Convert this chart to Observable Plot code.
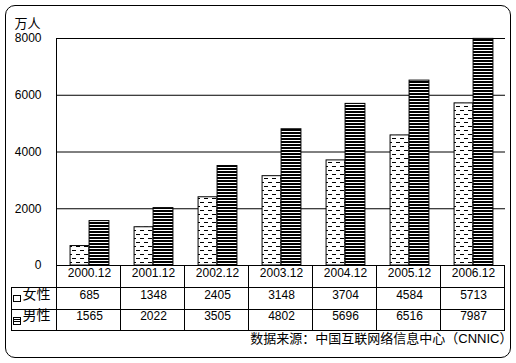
<!DOCTYPE html>
<html>
<head>
<meta charset="utf-8">
<script src="https://cdn.jsdelivr.net/npm/d3@7"></script>
<script src="https://cdn.jsdelivr.net/npm/@observablehq/plot@0.6"></script>
<style>
  html, body { margin: 0; padding: 0; background: #fff; }
  #wrap { position: relative; width: 516px; height: 363px; overflow: hidden; font-family: "Liberation Sans", "Noto Sans CJK SC", sans-serif; }
  #box { position: absolute; left: 5px; top: 5px; width: 504px; height: 351px; border: 1px solid #000; border-radius: 10px; }
  #chart { position: absolute; left: 0; top: 0; }
</style>
</head>
<body>
<div id="wrap"><div id="box"></div><div id="chart"></div></div>
<script>
const categories = ["2000.12", "2001.12", "2002.12", "2003.12", "2004.12", "2005.12", "2006.12"];
const female = [685, 1348, 2405, 3148, 3704, 4584, 5713];
const male = [1565, 2022, 3505, 4802, 5696, 6516, 7987];
const seriesNames = ["女性", "男性"];
const yTicks = [0, 2000, 4000, 6000, 8000];
const unitLabel = "万人";
const sourceText = "数据来源：中国互联网络信息中心（CNNIC）";

const rows = categories.map((c, i) => ({cat: c, female: female[i], male: male[i]}));

const W = 516, H = 363, mL = 56, mR = 11, mT = 38, mB = 98;
const colW = (W - mL - mR) / categories.length;
const barW = 19;
const outer = (colW - 2 * barW) / 2;
const font = "\"Liberation Sans\", \"Noto Sans CJK SC\", sans-serif";

const plot = Plot.plot({
  width: W, height: H,
  marginLeft: mL, marginRight: mR, marginTop: mT, marginBottom: mB,
  style: {fontFamily: font, fontSize: "12px", color: "#000", background: "transparent", overflow: "visible"},
  x: {domain: categories, padding: 0, axis: null},
  y: {domain: [0, 8000], ticks: yTicks, tickSize: 0, tickPadding: 15, tickFormat: d => String(d), label: null},
  marks: [
    Plot.ruleY(yTicks, {stroke: "#000", strokeWidth: 1}),
    Plot.barY(rows, {x: "cat", y: "female", fill: "url(#patF)", stroke: "#000", strokeWidth: 1, insetLeft: outer, insetRight: colW - outer - barW}),
    Plot.barY(rows, {x: "cat", y: "male", fill: "url(#patM)", stroke: "#000", strokeWidth: 1, insetLeft: outer + barW, insetRight: outer - 1}),
    Plot.text(rows, {x: "cat", text: "cat", frameAnchor: "bottom", dy: 11, fill: "#000"}),
    Plot.text(rows, {x: "cat", text: d => String(d.female), frameAnchor: "bottom", dy: 33, fill: "#000"}),
    Plot.text(rows, {x: "cat", text: d => String(d.male), frameAnchor: "bottom", dy: 54, fill: "#000"}),
    Plot.text([seriesNames[0]], {text: d => d, frameAnchor: "bottom-left", dx: -34, dy: 33, textAnchor: "start", fontSize: 14, fill: "#000"}),
    Plot.text([seriesNames[1]], {text: d => d, frameAnchor: "bottom-left", dx: -34, dy: 54, textAnchor: "start", fontSize: 14, fill: "#000"}),
    Plot.text([unitLabel], {text: d => d, frameAnchor: "top-left", dx: -42, dy: -20, textAnchor: "start", fontSize: 13, fill: "#000"}),
    Plot.text([sourceText], {text: d => d, frameAnchor: "bottom-right", dx: 7, dy: 77, textAnchor: "end", fontSize: 13, fill: "#000"})
  ]
});

const svg = d3.select(plot);
const defs = svg.insert("defs", ":first-child");
const pf = defs.append("pattern").attr("id", "patF").attr("patternUnits", "userSpaceOnUse").attr("width", 8).attr("height", 8);
pf.append("rect").attr("width", 8).attr("height", 8).attr("fill", "#fff");
pf.append("rect").attr("x", 0).attr("y", 2).attr("width", 4).attr("height", 1).attr("fill", "#000");
pf.append("rect").attr("x", 4).attr("y", 6).attr("width", 4).attr("height", 1).attr("fill", "#000");
const pm = defs.append("pattern").attr("id", "patM").attr("patternUnits", "userSpaceOnUse").attr("width", 8).attr("height", 3);
pm.append("rect").attr("width", 8).attr("height", 3).attr("fill", "#fff");
pm.append("rect").attr("x", 0).attr("y", 0).attr("width", 8).attr("height", 2).attr("fill", "#000");

// table grid and axis line
const xs = plot.scale("x");
const x0 = xs.range[0], x1 = xs.range[1];
const yBase = H - mB;
const r1 = yBase + 22, r2 = yBase + 44, r3 = yBase + 65;
const tableLeft = 11;
const g = svg.append("g").attr("stroke", "#000").attr("stroke-width", 1).attr("shape-rendering", "crispEdges");
const line = (a, b, c, d) => g.append("line").attr("x1", a).attr("y1", b).attr("x2", c).attr("y2", d);
line(x0, mT, x0, r3);
categories.forEach((c, i) => {
  const xx = x0 + (i + 1) * xs.step;
  line(xx, yBase, xx, r3);
});
line(x0, yBase, x1, yBase);
line(tableLeft, r1, x1, r1);
line(tableLeft, r2, x1, r2);
line(tableLeft, r3, x1, r3);
line(tableLeft, r1, tableLeft, r3);
// legend swatches
const sw = svg.append("g").attr("stroke", "#000").attr("fill", "#fff").attr("shape-rendering", "crispEdges");
sw.append("rect").attr("x", 13.5).attr("y", r1 + 8.5).attr("width", 7).attr("height", 6);
sw.append("rect").attr("x", 13.5).attr("y", r2 + 8.5).attr("width", 7).attr("height", 7);
sw.append("line").attr("x1", 14).attr("x2", 20).attr("y1", r2 + 10.5).attr("y2", r2 + 10.5);
sw.append("line").attr("x1", 14).attr("x2", 20).attr("y1", r2 + 12.5).attr("y2", r2 + 12.5);

document.getElementById("chart").appendChild(plot);
</script>
</body>
</html>
